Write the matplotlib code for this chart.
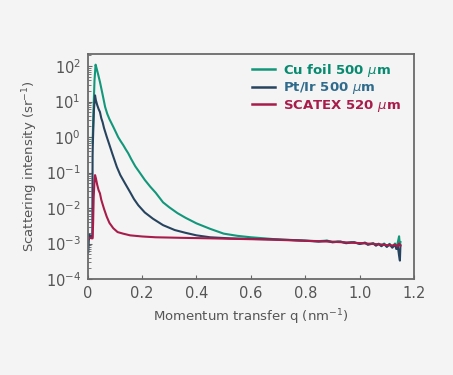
import matplotlib.pyplot as plt

# Cu foil 500 um
q_cu = [0.018, 0.021, 0.025, 0.029, 0.033, 0.038, 0.045, 0.052, 0.058, 0.064,
        0.072, 0.080, 0.087, 0.094, 0.103, 0.112, 0.122, 0.131, 0.140, 0.149,
        0.160, 0.175, 0.192, 0.21, 0.23, 0.25, 0.277, 0.30, 0.33, 0.36,
        0.40, 0.45, 0.50, 0.55, 0.60, 0.65, 0.70, 0.75, 0.80, 0.85,
        0.88, 0.90, 0.92, 0.95, 0.97, 1.00, 1.02, 1.03, 1.05, 1.06,
        1.07, 1.08, 1.09, 1.10, 1.11, 1.12, 1.13, 1.135, 1.14, 1.145,
        1.148, 1.15]
i_cu = [0.7, 5, 40, 110, 85, 60, 36, 20, 12, 7.1,
        4.5, 3.2, 2.5, 1.95, 1.4, 1.0, 0.75, 0.59, 0.45, 0.35,
        0.24, 0.15, 0.098, 0.062, 0.040, 0.027, 0.0145, 0.0105, 0.0072, 0.0053,
        0.0037, 0.0026, 0.0019, 0.00165, 0.0015, 0.0014, 0.0013, 0.00126, 0.0012, 0.00117,
        0.00121, 0.00111, 0.00115, 0.00104, 0.0011, 0.00099, 0.00106, 0.00095, 0.00103, 0.0009,
        0.00099, 0.00087, 0.001, 0.00084, 0.00098, 0.0008, 0.001, 0.00072, 0.00105, 0.0016,
        0.0009, 0.0011]

# Pt/Ir 500 um
q_pt = [0.0, 0.002, 0.004, 0.005, 0.007, 0.009, 0.011, 0.014, 0.017, 0.018,
        0.019, 0.023, 0.027, 0.030, 0.035, 0.040, 0.045, 0.050, 0.055, 0.060,
        0.070, 0.080, 0.090, 0.107, 0.120, 0.137, 0.156, 0.170, 0.186, 0.21,
        0.24, 0.277, 0.32, 0.36, 0.40, 0.45, 0.523, 0.60, 0.70, 0.80,
        0.85, 0.88, 0.90, 0.93, 0.95, 0.98, 1.00, 1.02, 1.03, 1.05,
        1.06, 1.07, 1.08, 1.09, 1.10, 1.11, 1.12, 1.13, 1.135, 1.14,
        1.145, 1.148, 1.15]
i_pt = [0.0006, 0.00055, 0.0012, 0.0018, 0.0014, 0.0017, 0.0015, 0.0015, 0.0015, 0.3,
        0.7, 6, 15, 11, 8, 6.2, 5.1, 3.4, 2.6, 1.8,
        1.02, 0.6, 0.35, 0.145, 0.085, 0.050, 0.028, 0.018, 0.012, 0.0075,
        0.0050, 0.0033, 0.0024, 0.0020, 0.0017, 0.0015, 0.0014, 0.00135, 0.0013, 0.0012,
        0.00113, 0.00119, 0.00108, 0.00114, 0.00102, 0.00109, 0.00097, 0.00105, 0.00092, 0.001,
        0.00087, 0.00097, 0.00084, 0.00096, 0.0008, 0.00095, 0.00076, 0.00093, 0.0007, 0.00088,
        0.00045, 0.00033, 0.0009]

# SCATEX 520 um
q_sc = [0.0, 0.005, 0.010, 0.015, 0.018, 0.020, 0.022, 0.025, 0.027, 0.030,
        0.035, 0.040, 0.045, 0.050, 0.060, 0.070, 0.080, 0.094, 0.110, 0.130,
        0.156, 0.20, 0.25, 0.34, 0.45, 0.55, 0.65, 0.707, 0.80, 0.90,
        1.00, 1.05, 1.08, 1.10, 1.12, 1.13, 1.14, 1.145, 1.15]
i_sc = [0.0015, 0.0014, 0.00145, 0.0014, 0.0014, 0.004, 0.02, 0.06, 0.085, 0.07,
        0.045, 0.032, 0.026, 0.017, 0.0095, 0.0057, 0.0038, 0.0027, 0.0021, 0.0019,
        0.0017, 0.00158, 0.0015, 0.00145, 0.0014, 0.00135, 0.0013, 0.00126, 0.0012, 0.00112,
        0.00103, 0.00097, 0.00094, 0.0009, 0.00088, 0.00092, 0.00084, 0.001, 0.00087]

labels = ['Cu foil 500 $\\mu$m', 'Pt/Ir 500 $\\mu$m', 'SCATEX 520 $\\mu$m']
line_colors = ['#13977a', '#27445f', '#a81c4c']
text_colors = ['#078a6f', '#2f6b8c', '#a81c4c']

bg = '#f4f4f4'
grey = '#555555'

fig = plt.figure(figsize=(4.53, 3.75), dpi=100, facecolor=bg)
ax = fig.add_axes([0.1936, 0.256, 0.7204, 0.6])
ax.set_facecolor(bg)

ax.plot(q_cu, i_cu, color=line_colors[0], lw=1.5, label=labels[0])
ax.plot(q_pt, i_pt, color=line_colors[1], lw=1.5, label=labels[1])
ax.plot(q_sc, i_sc, color=line_colors[2], lw=1.5, label=labels[2])

ax.set_yscale('log')
ax.set_xlim(0, 1.2)
ax.set_ylim(1e-4, 2.2e2)
ax.set_xticks([0, 0.2, 0.4, 0.6, 0.8, 1.0, 1.2])
ax.set_xticklabels(['0', '0.2', '0.4', '0.6', '0.8', '1.0', '1.2'])
ax.set_yticks([1e-4, 1e-3, 1e-2, 1e-1, 1, 10, 100])
ax.set_yticklabels(['10$^{-4}$', '10$^{-3}$', '10$^{-2}$', '10$^{-1}$',
                    '10$^{0}$', '10$^{1}$', '10$^{2}$'])

ax.tick_params(axis='both', which='major', direction='in', length=3,
               color='#666666', labelcolor=grey, labelsize=10.5, pad=5)
ax.tick_params(axis='y', which='minor', direction='in', length=2, color='#666666')
ax.tick_params(axis='x', which='minor', bottom=False)

for s in ax.spines.values():
    s.set_color('#6a6a6a')
    s.set_linewidth(1.3)

ax.set_xlabel('Momentum transfer q (nm$^{-1}$)', color=grey, fontsize=9.5, labelpad=5)
ax.set_ylabel('Scattering intensity (sr$^{-1}$)', color=grey, fontsize=9.5, labelpad=4)

leg = ax.legend(loc='upper right', frameon=False, handlelength=1.8,
                handletextpad=0.6, labelspacing=0.12, borderaxespad=0.2,
                bbox_to_anchor=(0.985, 1.0),
                prop={'size': 9.5, 'weight': 'bold'})
for t, c in zip(leg.get_texts(), text_colors):
    t.set_color(c)
for h in leg.get_lines():
    h.set_linewidth(1.8)

fig.savefig('out.png', dpi=100, facecolor=bg)
